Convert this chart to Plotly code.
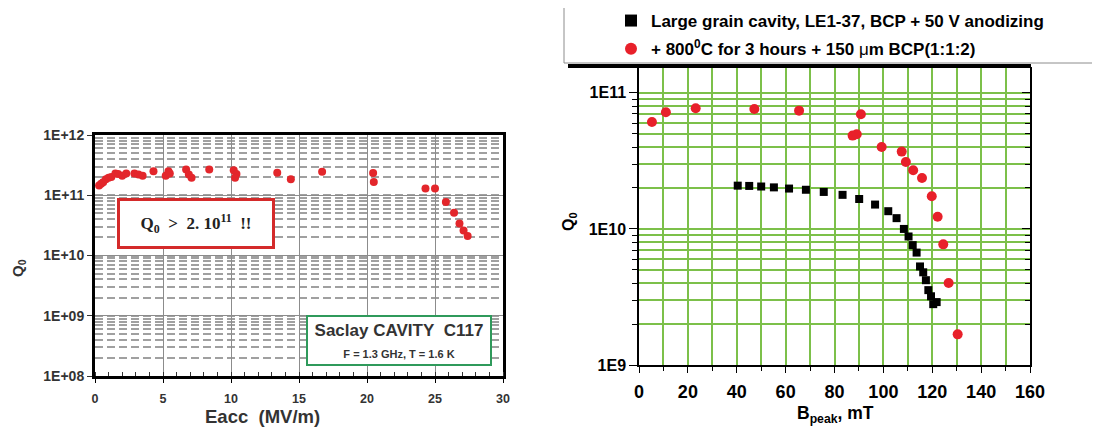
import plotly.graph_objects as go

# ---------------- data: left chart (Saclay cavity C117) ----------------
eacc = [0.3, 0.45, 0.6, 0.8, 1.0, 1.2, 1.5, 1.7, 2.0, 2.3, 2.9, 3.2, 3.5, 4.3,
        5.2, 5.4, 5.5, 6.7, 6.9, 7.1, 8.4, 10.2, 10.4, 10.3, 13.4, 14.4, 16.7,
        20.45, 20.5, 24.3, 25.0, 25.8, 26.4, 26.8, 27.1, 27.4]
q0_left = [1.45e11, 1.55e11, 1.65e11, 1.85e11, 1.95e11, 2.0e11, 2.3e11, 2.25e11,
           2.1e11, 2.3e11, 2.3e11, 2.2e11, 2.1e11, 2.5e11, 2.1e11, 2.5e11, 2.3e11,
           2.68e11, 2.2e11, 1.95e11, 2.68e11, 2.6e11, 2.25e11, 1.95e11, 2.36e11,
           1.85e11, 2.45e11, 2.35e11, 1.66e11, 1.29e11, 1.29e11, 7.7e10, 5.1e10,
           3.4e10, 2.6e10, 2.1e10]

left_y_tickvals = [1e8, 1e9, 1e10, 1e11, 1e12]
left_y_ticktext = ["1E+08", "1E+09", "1E+10", "1E+11", "1E+12"]
left_x_tickvals = [0, 5, 10, 15, 20, 25, 30]

# ---------------- data: right chart (large grain cavity LE1-37) ----------------
bpk_black = [40.4, 45.1, 50.0, 55.2, 61.4, 68.3, 75.6, 83.3, 90.1, 96.6, 102.0,
             105.4, 108.4, 110.3, 112.0, 113.6, 115.0, 116.3, 117.4, 118.4, 119.5,
             120.4, 121.8]
q0_black = [2.08e10, 2.07e10, 2.05e10, 2.02e10, 1.98e10, 1.94e10, 1.87e10, 1.78e10,
            1.66e10, 1.51e10, 1.35e10, 1.2e10, 1.0e10, 8.8e9, 7.6e9, 6.7e9, 5.3e9,
            4.8e9, 4.2e9, 3.55e9, 3.2e9, 2.8e9, 2.9e9]
bpk_red = [5.3, 11.0, 23.2, 47.2, 65.5, 87.4, 89.1, 90.8, 99.3, 107.5, 109.2, 112.2,
           115.8, 119.8, 122.2, 124.5, 126.7, 130.4]
q0_red = [6.1e10, 7.2e10, 7.7e10, 7.6e10, 7.4e10, 4.85e10, 4.97e10, 6.96e10, 4.0e10,
          3.7e10, 3.1e10, 2.7e10, 2.37e10, 1.74e10, 1.23e10, 7.7e9, 4.0e9, 1.68e9]

right_y_tickvals = [1e9, 1e10, 1e11]
right_y_ticktext = ["1E9", "1E10", "1E11"]
right_x_tickvals = [0, 20, 40, 60, 80, 100, 120, 140, 160]

name_black = "Large grain cavity, LE1-37, BCP + 50 V anodizing"
name_red = ("+ 800<sup>0</sup>C for 3 hours + 150 "
            "<span style='font-weight:normal'>\u03bc</span>m BCP(1:1:2)")

# ---------------- layout helpers ----------------
# the page body keeps its default 8px margin, so the figure is made 8px smaller
# and page-pixel positions are converted to paper fractions with that offset
OFF = 8
W, H = 1100 - OFF, 432 - OFF
FONT = "Liberation Sans, Arial, sans-serif"


def px(x):
    return (x - OFF) / W


def py(y):
    return 1 - (y - OFF) / H


GREEN = "#7cc04a"

fig = go.Figure()

fig.add_trace(go.Scatter(
    x=eacc, y=q0_left, mode="markers", xaxis="x", yaxis="y", showlegend=False,
    marker=dict(color="#e3262b", size=8, line=dict(width=0)),
))
fig.add_trace(go.Scatter(
    x=bpk_black, y=q0_black, mode="markers", xaxis="x2", yaxis="y2",
    name=name_black, legendgroup="a",
    marker=dict(color="black", symbol="square", size=8, line=dict(width=0)),
))
fig.add_trace(go.Scatter(
    x=bpk_red, y=q0_red, mode="markers", xaxis="x2", yaxis="y2",
    name=name_red, legendgroup="b",
    marker=dict(color="#e8202a", size=10, line=dict(width=0)),
))
# invisible copy on the mirrored right axis so that it is drawn
fig.add_trace(go.Scatter(
    x=bpk_black, y=q0_black, mode="markers", xaxis="x2", yaxis="y3",
    showlegend=False, hoverinfo="skip", marker=dict(opacity=0),
))

fig.update_layout(
    width=W, height=H, autosize=False,
    margin=dict(l=0, r=0, t=0, b=0, pad=0, autoexpand=False),
    paper_bgcolor="white", plot_bgcolor="white",
    font=dict(family=FONT, color="black"),
    showlegend=True,
    legend=dict(
        x=px(611), y=py(3), xanchor="left", yanchor="top",
        bgcolor="rgba(0,0,0,0)", borderwidth=0,
        font=dict(family=FONT, size=17, color="black", weight="bold"),
        tracegroupgap=3, itemsizing="constant",
    ),
    # ---- left chart ----
    xaxis=dict(
        domain=[px(95), px(503)], anchor="y", range=[0, 30],
        tickmode="array", tickvals=left_x_tickvals,
        showgrid=True, gridcolor="#8c8c8c", gridwidth=1.2,
        showline=True, linecolor="black", linewidth=3, mirror=True,
        ticks="outside", ticklen=4, tickcolor="black", ticklabelstandoff=5,
        tickfont=dict(family=FONT, size=12.5, color="#333", weight="bold"),
        minor=dict(dtick=1, ticks="inside", ticklen=4, tickcolor="#333", showgrid=False),
        zeroline=False,
    ),
    yaxis=dict(
        domain=[py(376), py(135)], anchor="x", type="log", range=[8, 12],
        tickmode="array", tickvals=left_y_tickvals, ticktext=left_y_ticktext,
        showgrid=True, gridcolor="#8c8c8c", gridwidth=1.2,
        showline=True, linecolor="black", linewidth=3, mirror=True,
        ticks="outside", ticklen=5, tickcolor="#333",
        tickfont=dict(family=FONT, size=14, color="#333", weight="bold"),
        minor=dict(dtick="D1", showgrid=True, griddash="8px,4px", gridcolor="#a0a0a0",
                   gridwidth=1.5, ticks=""),
        zeroline=False,
    ),
    # ---- right chart ----
    xaxis2=dict(
        domain=[px(639), px(1030)], anchor="y2", range=[0, 160],
        tickmode="array", tickvals=right_x_tickvals,
        showgrid=True, gridcolor=GREEN, gridwidth=1.6,
        showline=True, linecolor="black", linewidth=1.5, mirror=False,
        ticks="outside", ticklen=6, tickcolor="black", ticklabelstandoff=4,
        tickfont=dict(family=FONT, size=18, color="black", weight="bold"),
        minor=dict(dtick=10, ticks="outside", ticklen=4, tickcolor="black",
                   showgrid=True, gridcolor=GREEN, gridwidth=1.6),
        zeroline=False,
    ),
    yaxis2=dict(
        domain=[py(365), py(67)], anchor="x2", type="log", range=[9, 11.19],
        tickmode="array", tickvals=right_y_tickvals, ticktext=right_y_ticktext,
        showgrid=True, gridcolor=GREEN, gridwidth=1.6,
        showline=True, linecolor="black", linewidth=1.5,
        ticks="outside", ticklen=8, tickcolor="black",
        tickfont=dict(family=FONT, size=16, color="black", weight="bold"),
        minor=dict(dtick="D1", showgrid=True, gridcolor=GREEN, gridwidth=1.6,
                   ticks="outside", ticklen=5, tickcolor="black"),
        zeroline=False,
    ),
    yaxis3=dict(
        overlaying="y2", anchor="x2", side="right", type="log", range=[9, 11.19],
        tickmode="array", tickvals=right_y_tickvals, showticklabels=False,
        showgrid=False, showline=True, linecolor="black", linewidth=1.5,
        ticks="inside", ticklen=8, tickcolor="black",
        minor=dict(dtick="D1", showgrid=False, ticks="inside", ticklen=5,
                   tickcolor="black"),
        zeroline=False,
    ),
)

shapes = [
    # legend frame
    dict(type="rect", xref="paper", yref="paper",
         x0=px(564), x1=px(1110), y0=py(63), y1=py(3),
         line=dict(color="#8c8c8c", width=1), fillcolor="white", layer="above"),
    # thick top frame bar of the right chart
    dict(type="line", xref="paper", yref="paper",
         x0=px(568), x1=px(1031), y0=py(66), y1=py(66),
         line=dict(color="black", width=4), layer="above"),
]
fig.update_layout(shapes=shapes)

NB = "\u00a0"
annotations = [
    # red box
    dict(xref="paper", yref="paper", x=px(196), y=py(223.5),
         text=f"Q<sub>0</sub>{NB}{NB}>{NB}{NB}2.{NB}10<sup>11</sup>{NB}{NB}!!",
         showarrow=False, xanchor="center", yanchor="middle",
         font=dict(family="Liberation Serif, Times New Roman, serif", size=17,
                   color="#222", weight="bold"),
         bgcolor="white", bordercolor="#d42a2a", borderwidth=3, borderpad=0,
         width=152, height=45),
    # green box
    dict(xref="paper", yref="paper", x=px(399), y=py(340.5),
         text=(f"Saclay CAVITY{NB}{NB}C117<br>"
               "<span style='font-size:11px'>F = 1.3 GHz, T = 1.6 K</span>"),
         showarrow=False, xanchor="center", yanchor="middle",
         font=dict(family=FONT, size=17, color="#333", weight="bold"),
         bgcolor="white", bordercolor="#2f9a5b", borderwidth=2, borderpad=0,
         width=182, height=47),
    # axis titles, left chart
    dict(xref="paper", yref="paper", x=px(18), y=py(268), text="Q<sub>0</sub>",
         textangle=-90, showarrow=False, xanchor="center", yanchor="middle",
         font=dict(family=FONT, size=15, color="#333", weight="bold")),
    dict(xref="paper", yref="paper", x=px(262), y=py(416),
         text=f"Eacc{NB}{NB}(MV/m)", showarrow=False, xanchor="center", yanchor="middle",
         font=dict(family=FONT, size=18.5, color="#333", weight="bold")),
    # axis titles, right chart
    dict(xref="paper", yref="paper", x=px(569), y=py(222), text="Q<sub>0</sub>",
         textangle=-90, showarrow=False, xanchor="center", yanchor="middle",
         font=dict(family=FONT, size=16, color="black", weight="bold")),
    dict(xref="paper", yref="paper", x=px(835), y=py(414),
         text="B<sub>peak</sub>, mT", showarrow=False, xanchor="center", yanchor="middle",
         font=dict(family=FONT, size=17.5, color="black", weight="bold")),
]
fig.update_layout(annotations=annotations)

fig.write_html("out.html")
